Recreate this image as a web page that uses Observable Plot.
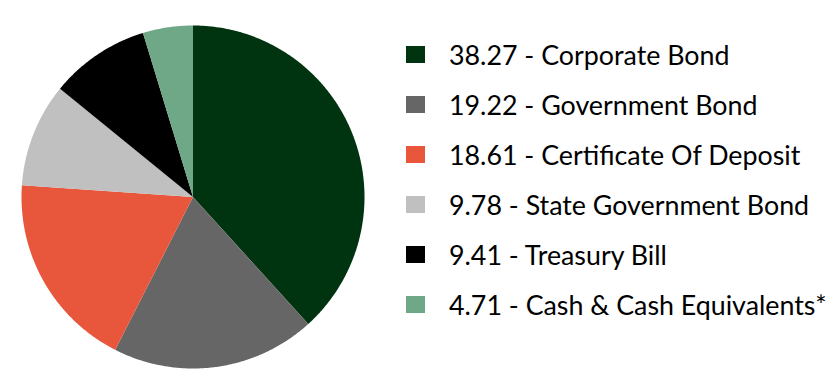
<!DOCTYPE html>
<html>
<head>
<meta charset="utf-8">
<script src="https://cdn.jsdelivr.net/npm/d3@7"></script>
<script src="https://cdn.jsdelivr.net/npm/@observablehq/plot@0.6"></script>
<style>
  html, body { margin: 0; padding: 0; background: #fff; }
  #wrap { position: relative; width: 837px; height: 385px; }
  #legend { position: absolute; left: 406px; top: 29.5px; font-family: Lato, sans-serif; font-size: 26.8px; color: #000; }
  .row { display: flex; align-items: center; height: 50px; white-space: nowrap; }
  .sw { width: 19px; height: 17px; margin-right: 24px; flex: none; }
</style>
</head>
<body>
<div id="wrap"></div>
<script>
const categories = ["Corporate Bond", "Government Bond", "Certificate Of Deposit", "State Government Bond", "Treasury Bill", "Cash & Cash Equivalents*"];
const values = [38.27, 19.22, 18.61, 9.78, 9.41, 4.71];
const colors = ["#00330f", "#666666", "#e8573c", "#c0c0c0", "#000000", "#6fa886"];

// Build pie slice polygons (unit circle, starting at 12 o'clock, clockwise)
const total = d3.sum(values);
let acc = 0;
const pt = a => [Math.sin(a), -Math.cos(a)];
const features = categories.map((c, i) => {
  const a0 = (acc / total) * 2 * Math.PI;
  acc += values[i];
  const a1 = (acc / total) * 2 * Math.PI;
  const n = Math.max(2, Math.ceil((a1 - a0) / (Math.PI / 360)));
  const ring = [[0, 0]];
  for (let k = 0; k <= n; k++) ring.push(pt(a0 + (a1 - a0) * k / n));
  ring.push([0, 0]);
  return {type: "Feature", properties: {category: c, value: values[i]}, geometry: {type: "Polygon", coordinates: [ring]}};
});
const circleRing = d3.range(0, 721).map(k => pt(k * Math.PI / 360));
const outline = {type: "Feature", properties: {}, geometry: {type: "Polygon", coordinates: [circleRing]}};

const plot = Plot.plot({
  width: 837,
  height: 385,
  marginLeft: 21,
  marginTop: 25,
  marginRight: 473,
  marginBottom: 17,
  projection: {type: "identity", domain: outline},
  color: {domain: categories, range: colors},
  marks: [
    Plot.geo(features, {fill: d => d.properties.category, stroke: "none"})
  ]
});

const wrap = document.getElementById("wrap");
wrap.appendChild(plot);

const color = plot.scale("color");
const legend = d3.select(wrap).append("div").attr("id", "legend");
const rows = legend.selectAll("div.row").data(categories).join("div").attr("class", "row");
rows.append("div").attr("class", "sw").style("background", d => color.apply(d));
rows.append("span").text((d, i) => `${values[i].toFixed(2).replace(/0$/, "")} - ${d}`);
</script>
</body>
</html>
